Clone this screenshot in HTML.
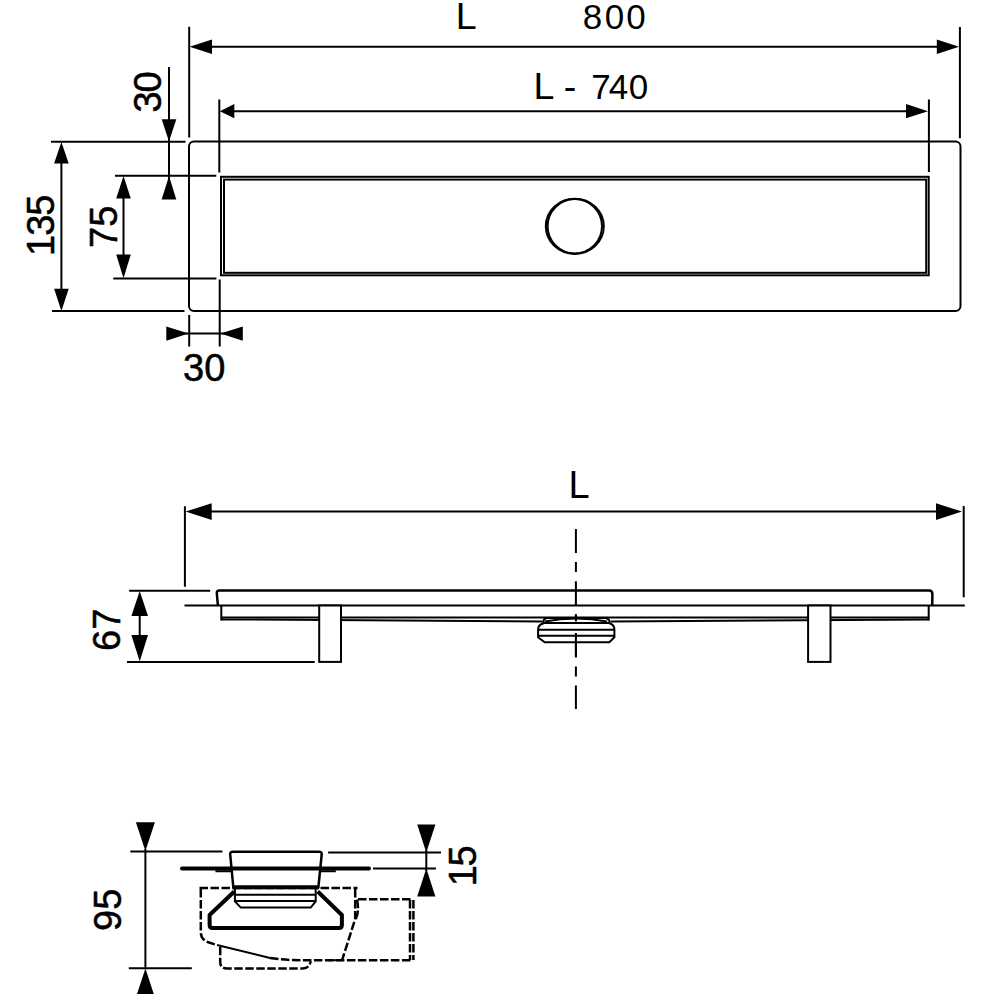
<!DOCTYPE html>
<html lang="en">
<head>
<meta charset="utf-8">
<title>Drain channel dimensions</title>
<style>
html,body{margin:0;padding:0;background:#fff;}
body{width:994px;height:994px;overflow:hidden;}
svg{display:block;}
text{font-family:"Liberation Sans",sans-serif;fill:#000;}
.l{stroke:#000;stroke-width:2;fill:none;}
.m{stroke:#000;stroke-width:2.5;fill:none;}
.t{stroke:#000;stroke-width:4;fill:none;}
.d{stroke:#000;stroke-width:2.5;fill:none;stroke-dasharray:8.5 2.5;}
.a{fill:#000;stroke:none;}
.b{stroke:#000;stroke-width:0.55;stroke-linejoin:round;}
</style>
</head>
<body>
<svg width="994" height="994" viewBox="0 0 994 994">
<rect x="0" y="0" width="994" height="994" fill="#fff"/>

<!-- ================= TOP VIEW ================= -->
<g id="topview">
  <!-- body -->
  <rect class="l" x="189" y="141.4" width="771.5" height="169.6" rx="5" ry="5"/>
  <rect class="l" x="221" y="176.8" width="707.7" height="98.5" stroke-width="2.05"/>
  <rect class="l" x="224" y="179.6" width="702.2" height="93.2"/>
  <circle class="l" cx="574.8" cy="226.3" r="27.2" stroke-width="3.7"/>
  <ellipse class="l" cx="574.8" cy="226.3" rx="29" ry="27.6" stroke-width="1.4"/>

  <!-- extension lines vertical -->
  <path class="l" d="M189.2 26.8V137.4 M219.3 99.5V172.4 M959.9 26.9V138.2 M928.9 99.6V172"/>
  <!-- dimension L / 800 -->
  <path class="l" d="M195 46.7H955"/>
  <polygon class="a" points="189.6,46.7 212,39.5 212,53.9"/>
  <polygon class="a" points="959,46.7 936.8,39.5 936.8,53.9"/>
  <!-- dimension L-740 -->
  <path class="l" d="M225 111.2H924"/>
  <polygon class="a" points="219.9,111.2 234.3,104.1 234.3,118.3"/>
  <polygon class="a" points="928,111.2 906,104.1 906,118.3"/>

  <!-- horizontal extension lines left -->
  <path class="l" d="M51 141.8H185.5 M115 175.8H216.3 M113.3 278.5H216.4 M52 310.9H184.5"/>
  <!-- 135 -->
  <path class="l" d="M61.4 150V305"/>
  <polygon class="a" points="61.4,142 54.1,163.4 68.7,163.4"/>
  <polygon class="a" points="61.4,311 54.1,288.8 68.7,288.8"/>
  <!-- 75 -->
  <path class="l" d="M123.5 182V272"/>
  <polygon class="a" points="123.5,176 116.2,198.6 130.8,198.6"/>
  <polygon class="a" points="123.5,278.3 116.2,254.6 130.8,254.6"/>
  <!-- 30 vertical -->
  <path class="l" d="M169 67.1V190"/>
  <polygon class="a" points="169,141.6 161.7,119.2 176.3,119.2"/>
  <polygon class="a" points="169,176 161.7,199.6 176.3,199.6"/>
  <!-- 30 bottom -->
  <path class="l" d="M189.2 315V346.4 M219.7 279.5V346.4 M180 333.6H230"/>
  <polygon class="a" points="188.6,333.6 166.3,326.4 166.3,340.8"/>
  <polygon class="a" points="220.4,333.6 242.8,326.4 242.8,340.8"/>

  <!-- labels -->
  <text id="tL1" x="455.7" y="28.9" font-size="37.6">L</text>
  <text id="t800" x="592.6 614.4 635.9" y="28.8" font-size="35" text-anchor="middle">800</text>
  <text id="tL740a" x="533.6" y="99.2" font-size="37.6">L</text>
  <text id="tL740b" x="569.9" y="99.2" font-size="37.6" text-anchor="middle">-</text>
  <text id="tL740c" x="600.9 618.6 638.4" y="99.3" font-size="35" text-anchor="middle">740</text>
  <text id="t30a" class="b" transform="translate(161.4 112.6) rotate(-90)" font-size="38" letter-spacing="-1">30</text>
  <text id="t135" class="b" transform="translate(54.4 256) rotate(-90)" font-size="38" letter-spacing="-1">135</text>
  <text id="t75" class="b" transform="translate(116.7 248) rotate(-90)" font-size="38">75</text>
  <text id="t30b" class="b" x="183" y="381" font-size="38">30</text>
</g>

<!-- ================= SIDE VIEW ================= -->
<g id="sideview">
  <path class="l" d="M184.9 506.2V586.8 M963.7 506.1V597.3"/>
  <path class="l" d="M192 511.6H956"/>
  <polygon class="a" points="185.6,511.6 211.7,503.3 211.7,519.9"/>
  <polygon class="a" points="962,511.6 936,503.3 936,519.9"/>
  <path class="l" d="M129.2 590.7H210.2 M127 661.9H314.7"/>
  <!-- 67 -->
  <path class="l" d="M139.7 600V655"/>
  <polygon class="a" points="139.7,591 131.4,615.9 148,615.9"/>
  <polygon class="a" points="139.7,661.6 131.4,635 148,635"/>

  <!-- centre line -->
  <path class="l" d="M575.9 529V709" stroke-dasharray="24 9.1 10 9.1"/>

  <!-- channel body -->
  <path class="l" d="M184.5 605.5H964.8"/>
  <path class="m" d="M217.9 605.5L216.8 593Q216.8 590.5 219.3 590.5H929Q932.4 590.5 932.4 594L932.2 605.5"/>
  <path class="l" d="M221.3 605.5V620.4 M928.7 605.5V620.4"/>
  <path class="l" d="M221.3 617.4H928.7" stroke-width="2.2"/>
  <path class="l" d="M221.3 619.4L542 621.4 M611 621.4L928.7 619.4" stroke-width="2.2"/>
  <!-- legs -->
  <rect class="l" x="319.2" y="605.5" width="21.8" height="56.4" style="fill:#fff"/>
  <rect class="l" x="808.1" y="605.5" width="22.4" height="56.4" style="fill:#fff"/>
  <!-- drain -->
  <path class="l" stroke-width="2.4" d="M546 618Q543 619.5 543 623.5Q538.1 625 538.1 629.5V637.3L544.7 642.2H609.3L614.4 637.3V629.5Q614.4 625 610 623.5Q610 619.5 606 618Z" style="fill:#fff"/>
  <path class="l" d="M543 623H610" stroke-width="3"/>
  <path class="l" d="M538.1 629.7H614.4 M538.1 635.8H614.4"/>
  <path class="l" d="M545 621.5Q576 615.5 607 621.5" stroke-width="1.6"/>
  <path class="l" d="M575.9 614.4V621.6 M575.9 633.1V656.8"/>

  <text id="tL2" x="568.5" y="498.3" font-size="38">L</text>
  <text id="t67" class="b" transform="translate(119.8 651) rotate(-90)" font-size="38">67</text>
</g>

<!-- ================= SECTION VIEW ================= -->
<g id="section">
  <!-- 95 dimension -->
  <path class="l" d="M130.3 851.4H222.4 M128.8 968.3H191.8 M145.4 849V969"/>
  <polygon class="a" points="145.4,851 135.9,822.2 154.9,822.2"/>
  <polygon class="a" points="145.4,968.6 135.9,997.4 154.9,997.4"/>
  <!-- 15 dimension -->
  <path class="l" d="M328.1 852.5H441 M373 868.6H435.9 M426.3 850V871"/>
  <polygon class="a" points="426.3,852.6 417.2,824.4 435.4,824.4"/>
  <polygon class="a" points="426.3,868.6 417.2,896.5 435.4,896.5"/>

  <!-- dashed housing -->
  <path class="d" d="M199.5 888H357.5" stroke-width="3" stroke-dasharray="6.6 1.6"/>
  <path class="d" d="M200.8 889V932Q200.8 940 209 942.5L217 945"/>
  <path class="l" d="M217 945L270 958"/>
  <path class="d" d="M270 958Q285 960.2 300 960.2H413"/>
  <path class="l" d="M328 960.2H342"/>
  <path class="d" d="M355.2 889V919L342.3 959.5"/>
  <path class="d" d="M357 899.5Q359.5 912 355.6 919.3"/>
  <path class="d" d="M358 899.2H411.5"/>
  <path class="d" d="M410 900V960 M413.4 900V960"/>
  <path class="d" d="M220.2 946.7V962Q220.2 968.4 227 968.4H303Q309 968.4 310.8 961.2"/>

  <!-- cup -->
  <path class="m" d="M233.4 888L230.2 854.5Q230 851.8 233 851.8H319Q321.9 851.8 321.7 854.5L318.3 888" fill="#fff" style="fill:#fff"/>
  <!-- thick flange lines -->
  <path class="t" d="M182 868.6H369" stroke-width="3.8" stroke-linecap="round"/>
  <path class="l" d="M215.4 871.2H232 M320 871.2H335.8" stroke-width="2.6"/>
  <path class="t" d="M232.5 887.2H319" stroke-width="4.2"/>
  <!-- trapezoid body -->
  <path class="t" d="M234.3 891.5L209.6 915V925Q209.6 928 212.6 928H339Q341.9 928 341.9 925V915L317.7 891.5" stroke-width="4.4" stroke-linejoin="round"/>
  <!-- inner trap -->
  <path class="l" d="M234.9 889V901.4L240.8 907.6H310.7L315.7 901.4V889"/>
  <path class="l" d="M234.9 894.8H315.7 M234.9 900.9H315.7"/>

  <text id="t95" class="b" transform="translate(121.3 931) rotate(-90)" font-size="38">95</text>
  <text id="t15" class="b" transform="translate(475.7 886.3) rotate(-90)" font-size="38" letter-spacing="-1.4">15</text>
</g>
</svg>
</body>
</html>
